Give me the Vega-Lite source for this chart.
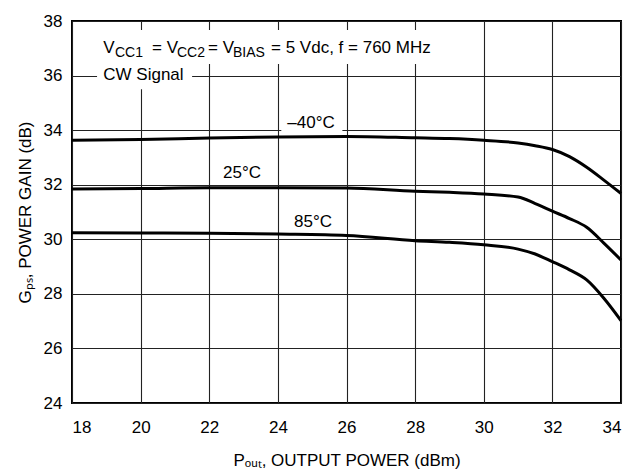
{
  "$schema": "https://vega.github.io/schema/vega-lite/v6.json",
  "width": 549,
  "height": 382,
  "autosize": {"type": "none"},
  "padding": {"left": 72, "top": 21, "right": 10, "bottom": 72},
  "background": "white",
  "config": {
    "font": "Liberation Sans",
    "view": {"stroke": "#000", "strokeWidth": 2},
    "axis": {
      "labelFont": "Liberation Sans",
      "labelFontSize": 17,
      "labelColor": "#000",
      "titleFont": "Liberation Sans",
      "titleFontSize": 17,
      "titleFontWeight": "normal",
      "titleColor": "#000",
      "ticks": false,
      "domain": false,
      "grid": true,
      "gridColor": "#222",
      "gridWidth": 1.1,
      "gridOpacity": 1
    }
  },
  "datasets": {
    "curves": [
      {"p": 18, "g": 33.63, "t": "-40"}, {"p": 20, "g": 33.66, "t": "-40"}, {"p": 22, "g": 33.71, "t": "-40"},
      {"p": 24, "g": 33.75, "t": "-40"}, {"p": 26, "g": 33.77, "t": "-40"}, {"p": 28, "g": 33.72, "t": "-40"},
      {"p": 29, "g": 33.69, "t": "-40"}, {"p": 30, "g": 33.63, "t": "-40"}, {"p": 31, "g": 33.53, "t": "-40"},
      {"p": 31.5, "g": 33.43, "t": "-40"},
      {"p": 32, "g": 33.29, "t": "-40"}, {"p": 32.5, "g": 33.03, "t": "-40"}, {"p": 33, "g": 32.64, "t": "-40"},
      {"p": 33.5, "g": 32.17, "t": "-40"}, {"p": 34, "g": 31.68, "t": "-40"},
      {"p": 18, "g": 31.84, "t": "25"}, {"p": 20, "g": 31.86, "t": "25"}, {"p": 22, "g": 31.89, "t": "25"},
      {"p": 24, "g": 31.89, "t": "25"}, {"p": 26, "g": 31.88, "t": "25"}, {"p": 28, "g": 31.76, "t": "25"},
      {"p": 29, "g": 31.72, "t": "25"}, {"p": 30, "g": 31.66, "t": "25"}, {"p": 31, "g": 31.55, "t": "25"},
      {"p": 31.5, "g": 31.31, "t": "25"},
      {"p": 32, "g": 31.03, "t": "25"}, {"p": 32.5, "g": 30.76, "t": "25"}, {"p": 33, "g": 30.44, "t": "25"},
      {"p": 33.5, "g": 29.86, "t": "25"}, {"p": 34, "g": 29.24, "t": "25"},
      {"p": 18, "g": 30.24, "t": "85"}, {"p": 20, "g": 30.23, "t": "85"}, {"p": 22, "g": 30.22, "t": "85"},
      {"p": 24, "g": 30.19, "t": "85"}, {"p": 26, "g": 30.14, "t": "85"}, {"p": 28, "g": 29.95, "t": "85"},
      {"p": 29, "g": 29.89, "t": "85"}, {"p": 30, "g": 29.8, "t": "85"}, {"p": 31, "g": 29.64, "t": "85"},
      {"p": 31.5, "g": 29.46, "t": "85"},
      {"p": 32, "g": 29.18, "t": "85"}, {"p": 32.5, "g": 28.88, "t": "85"}, {"p": 33, "g": 28.51, "t": "85"},
      {"p": 33.5, "g": 27.84, "t": "85"}, {"p": 34, "g": 27.02, "t": "85"}
    ],
    "boxes": [
      {"x1": 18.82, "x2": 28.64, "y1": 37.67, "y2": 36.42},
      {"x1": 18.73, "x2": 21.5, "y1": 36.42, "y2": 35.5},
      {"x1": 24.1, "x2": 25.88, "y1": 34.37, "y2": 33.89}
    ],
    "notes": [
      {"x": 18.912, "y": 36.81, "s": "V", "k": "main"},
      {"x": 19.253, "y": 36.69, "s": "CC1", "k": "sub"},
      {"x": 20.332, "y": 36.81, "s": "= V", "k": "main"},
      {"x": 21.06, "y": 36.69, "s": "CC2", "k": "sub"},
      {"x": 21.964, "y": 36.81, "s": "= V", "k": "main"},
      {"x": 22.693, "y": 36.69, "s": "BIAS", "k": "sub"},
      {"x": 23.8, "y": 36.81, "s": "= 5 Vdc, f = 760 MHz", "k": "main"},
      {"x": 18.912, "y": 35.84, "s": "CW Signal", "k": "main"}
    ],
    "labels": [
      {"x": 24.966, "y": 34.07, "s": "–40°C"},
      {"x": 22.955, "y": 32.23, "s": "25°C"},
      {"x": 25.024, "y": 30.46, "s": "85°C"}
    ]
  },
  "layer": [
    {
      "data": {"name": "boxes"},
      "mark": {"type": "rect", "fill": "white", "stroke": null},
      "encoding": {
        "x": {"field": "x1", "type": "quantitative",
              "scale": {"domain": [18, 34], "nice": false, "zero": false},
              "axis": {"values": [18, 20, 22, 24, 26, 28, 30, 32, 34], "labelPadding": 16, "titlePadding": 17,
                       "title": "Pₒᵤₜ, OUTPUT POWER (dBm)"}},
        "x2": {"field": "x2"},
        "y": {"field": "y1", "type": "quantitative",
              "scale": {"domain": [24, 38], "nice": false, "zero": false},
              "axis": {"values": [24, 26, 28, 30, 32, 34, 36, 38], "labelPadding": 10, "titlePadding": 9,
                       "title": "Gₚₛ, POWER GAIN (dB)"}},
        "y2": {"field": "y2"}
      }
    },
    {
      "data": {"name": "curves"},
      "mark": {"type": "line", "color": "#000", "strokeWidth": 3, "interpolate": "monotone"},
      "encoding": {
        "x": {"field": "p", "type": "quantitative"},
        "y": {"field": "g", "type": "quantitative"},
        "detail": {"field": "t", "type": "nominal"}
      }
    },
    {
      "data": {"name": "notes"},
      "mark": {"type": "text", "align": "left", "baseline": "alphabetic", "color": "#000"},
      "encoding": {
        "x": {"field": "x", "type": "quantitative"},
        "y": {"field": "y", "type": "quantitative"},
        "text": {"field": "s"},
        "size": {"field": "k", "type": "nominal", "scale": {"domain": ["main", "sub"], "range": [17, 14]}, "legend": null}
      }
    },
    {
      "data": {"name": "labels"},
      "mark": {"type": "text", "align": "center", "baseline": "alphabetic", "color": "#000", "fontSize": 17},
      "encoding": {
        "x": {"field": "x", "type": "quantitative"},
        "y": {"field": "y", "type": "quantitative"},
        "text": {"field": "s"}
      }
    }
  ]
}
